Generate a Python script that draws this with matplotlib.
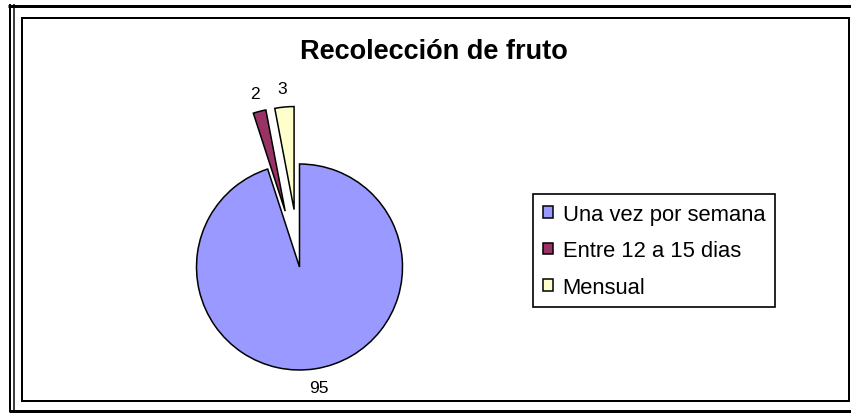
import matplotlib
matplotlib.use("Agg")
import matplotlib.pyplot as plt
from matplotlib.lines import Line2D

plt.rcParams['font.family'] = ['Liberation Sans', 'DejaVu Sans']

# data
categories = ["Una vez por semana", "Entre 12 a 15 dias", "Mensual"]
values = [95, 2, 3]
colors = ["#9999FF", "#993366", "#FFFFCC"]
title = "Recolección de fruto"

W, H = 851, 414
R = 103
explode = [0, 0.56 * R, 0.56 * R]  # pie explode is in data units here

fig = plt.figure(figsize=(W / 100, H / 100), dpi=100)
ax = fig.add_axes([0, 0, 1, 1])

total = sum(values)
wedges, texts, autotexts = ax.pie(
    values, colors=colors, explode=explode, startangle=90, counterclock=False,
    center=(299.5, H - 268), radius=R,
    autopct=lambda p: f"{round(p * total / 100)}", pctdistance=1.18,
    wedgeprops=dict(edgecolor="black", linewidth=1.1),
    textprops=dict(fontsize=12.5, color="black"),
)

ax.set_xlim(0, W)
ax.set_ylim(0, H)
ax.set_aspect("equal")
ax.axis("off")

# title
fig.text(434 / W, 1 - 52 / H, title, ha="center", va="center",
         fontsize=19.5, fontweight="bold")

# legend
leg = ax.legend(wedges, categories, loc="upper left",
                bbox_to_anchor=(533 / W, 1 - 195 / H), bbox_transform=fig.transFigure,
                borderaxespad=0, fontsize=15.8, frameon=True, fancybox=False,
                edgecolor="black", framealpha=1, handlelength=0.45, handleheight=0.45,
                handletextpad=0.45, labelspacing=0.7, borderpad=0.45)
leg.get_frame().set_linewidth(1.2)

# frame around the chart (pixel coords, y flipped)
def hline(y, x0, x1, lw):
    ax.add_line(Line2D([x0, x1], [H - y, H - y], color="black", lw=lw * 0.72,
                       solid_capstyle="butt", clip_on=False))

def vline(x, y0, y1, lw):
    ax.add_line(Line2D([x, x], [H - y0, H - y1], color="black", lw=lw * 0.72,
                       solid_capstyle="butt", clip_on=False))

hline(6.5, 8, W, 3)
hline(411.5, 9, W, 3)
vline(10, 5, 413, 2)
vline(13.5, 5, 413, 1.5)
# inner box
hline(19, 21, 849, 2)
hline(402, 21, 849, 2)
vline(21.5, 18, 403, 2)
vline(849, 18, 403, 2)

fig.savefig("out.png", dpi=100)
